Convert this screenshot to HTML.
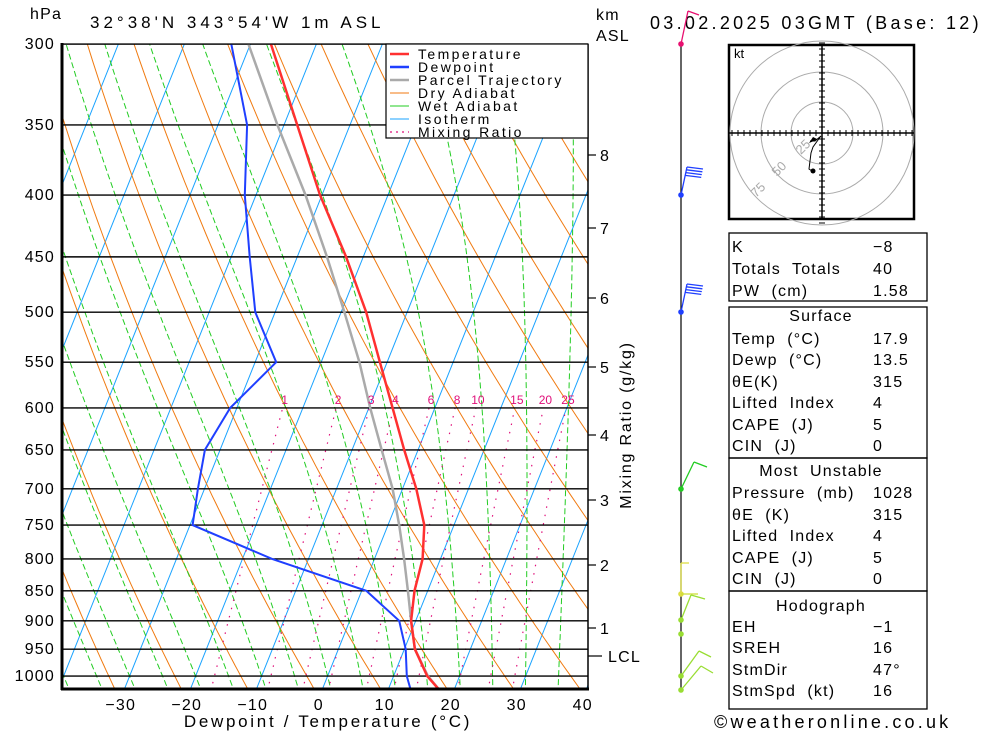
<!DOCTYPE html>
<html><head><meta charset="utf-8">
<style>
html,body{margin:0;padding:0;background:#fff;}
svg{display:block;font-family:"Liberation Sans",sans-serif;}
.t{font-size:16px;letter-spacing:1.2px;fill:#000;}
</style></head>
<body>
<svg id="c" width="1000" height="733" viewBox="0 0 1000 733" xmlns="http://www.w3.org/2000/svg">
<defs><clipPath id="pc"><rect x="62" y="44" width="526" height="646"/></clipPath></defs>
<g id="bg" clip-path="url(#pc)"></g>
<g id="prof" clip-path="url(#pc)"></g>
<g id="ax"></g>
<text x="30" y="19" class="t">hPa</text>
<text x="90" y="28" class="t" style="font-size:17px;letter-spacing:4px">32°38'N 343°54'W 1m ASL</text>
<text x="596" y="20" class="t">km</text>
<text x="596" y="41" class="t">ASL</text>
<text x="650" y="29" class="t" style="font-size:18px;letter-spacing:3.3px">03.02.2025 03GMT (Base: 12)</text>
<text x="328" y="727" text-anchor="middle" class="t" style="font-size:17px;letter-spacing:2.7px">Dewpoint / Temperature (°C)</text>
<text transform="translate(631,425) rotate(-90)" text-anchor="middle" class="t" style="letter-spacing:1.8px">Mixing Ratio (g/kg)</text>
<g>
<rect x="386" y="44" width="202" height="94" fill="#fff" stroke="#000" stroke-width="1.2"/>
<g id="leg" style="font-size:14px;letter-spacing:2.4px"></g>
</g>
<g id="wind"></g>
<g id="hodo"></g>
<g id="tbl"></g>
<text x="714" y="728" class="t" style="font-size:18px;letter-spacing:3.2px">©weatheronline.co.uk</text>
</svg>
<script>
// ---- data ----
const pressures = [1028,1000,950,900,850,800,750,700,650,600,550,500,450,400,350,300];
const temperature = [17.9,15.1,11.6,9.3,8.0,7.3,5.5,2.1,-2.1,-6.4,-11.1,-16.2,-22.6,-30.3,-38.0,-46.9];
const dewpointP = [1028,1000,950,900,850,800,750,700,650,600,550,500,450,400,350,300];
const dewpoint = [13.5,12.0,10.2,7.5,0.7,-15.5,-29.6,-31.0,-32.3,-31.0,-26.8,-33.0,-37.2,-41.7,-45.6,-52.9];
const parcel = [17.9,15.2,11.6,9.3,7.0,4.5,1.7,-1.5,-5.5,-9.8,-14.2,-19.5,-25.5,-32.5,-41.0,-50.3];
const isobars = [300,350,400,450,500,550,600,650,700,750,800,850,900,950,1000];
const tempTicks = [-30,-20,-10,0,10,20,30,40];
const mixRatios = [1,2,3,4,6,8,10,15,20,25];
const kmLabels = ["8","7","6","5","4","3","2","1"];

const NS="http://www.w3.org/2000/svg";
function yP(p){return 44+525*Math.log(p/300);}
function xT(t,p){return 322+6.6*t+0.4*(690-yP(p));}
function mk(tag,attrs,parent){const e=document.createElementNS(NS,tag);for(const k in attrs)e.setAttribute(k,attrs[k]);parent.appendChild(e);return e;}
const bg=document.getElementById('bg'),prof=document.getElementById('prof'),ax=document.getElementById('ax');
function poly(pts,style,parent){const e=mk('polyline',{points:pts.map(q=>q[0].toFixed(1)+','+q[1].toFixed(1)).join(' '),fill:'none'},parent);for(const k in style)e.setAttribute(k,style[k]);return e;}

for(let t=-110;t<=40;t+=10){
  const l=poly([[xT(t,1030),yP(1030)],[xT(t,290),yP(290)]],{stroke:'#1aa3ff','stroke-width':1},bg);
  
  
}
for(let th=220;th<=470;th+=10){
  const pts=[];for(let p=1030;p>=290;p-=10){const T=th*Math.pow(p/1000,0.286)-273.15;pts.push([xT(T,p),yP(p)]);}
  const l=poly(pts,{stroke:'#f07a10','stroke-width':1},bg);
  
  
}
function es(T){return 6.112*Math.exp(17.67*T/(T+243.5));}
function dTdp(T,p){const Tk=T+273.15,e=es(T),rs=0.622*e/(p-e),Lv=2.5e6,Rd=287,cp=1004;
  return (1/p)*(Rd*Tk+Lv*rs)/(cp+Lv*Lv*rs*0.622/(Rd*Tk*Tk));}
for(let tw=-45;tw<=45;tw+=5){
  let T=tw;const up=[];
  for(let p=1000;p>=290;p-=5){up.push([xT(T,p),yP(p)]);T-=dTdp(T,p)*5;}
  T=tw;const dn=[];for(let p=1000;p<=1035;p+=5){dn.unshift([xT(T,p),yP(p)]);T+=dTdp(T,p)*5;}
  const l=poly(dn.concat(up),{stroke:'#22cc22','stroke-width':1,'stroke-dasharray':'6,3'},bg);
  
  
}
function tw(w,p){const wk=w/1000,e=wk*p/(0.622+wk),a=Math.log(e/6.112);return 243.5*a/(17.67-a);}
mixRatios.forEach(w=>{
  const pts=[];for(let p=1030;p>=600;p-=10)pts.push([xT(tw(w,p),p),yP(p)]);
  const l=poly(pts,{stroke:'#e0107a','stroke-width':1.2,'stroke-dasharray':'1.5,7'},bg);
  
  
  const tx=mk('text',{x:xT(tw(w,600),600)+2,y:404,'text-anchor':'middle',fill:'#e0107a','font-size':'12'},ax);
  tx.textContent=w;
  
  
});
isobars.forEach(p=>{
  const l=mk('line',{x1:62,x2:588,y1:yP(p),y2:yP(p),stroke:'#000','stroke-width':1.4},bg);
  
  
  const t=mk('text',{x:55,y:yP(p)+5,'text-anchor':'end',class:'t','font-size':'15'},ax);
  t.textContent=p;
  
  
});
const par=poly(pressures.map((p,i)=>[xT(parcel[i],p),yP(p)]),{stroke:'#aaaaaa','stroke-width':2.5},prof);


const dw=poly(dewpointP.map((p,i)=>[xT(dewpoint[i],p),yP(p)]),{stroke:'#1f3fff','stroke-width':2},prof);


const tl=poly(pressures.map((p,i)=>[xT(temperature[i],p),yP(p)]),{stroke:'#ff3030','stroke-width':2.5},prof);



mk('line',{x1:62,y1:43,x2:62,y2:690,stroke:'#000','stroke-width':3},ax);
mk('line',{x1:61,y1:689,x2:589,y2:689,stroke:'#000','stroke-width':3},ax);
mk('line',{x1:62,y1:44,x2:588,y2:44,stroke:'#000','stroke-width':1.2},ax);
mk('line',{x1:588,y1:44,x2:588,y2:690,stroke:'#000','stroke-width':1.5},ax);
tempTicks.forEach(t=>{
  const tx=mk('text',{x:xT(t,1028)-3,y:710,'text-anchor':'middle',class:'t','font-size':'16'},ax);
  tx.textContent=(t<0?'\u2212'+(-t):t);
  
  
});
const kmY=[155,228,298,367,435,500,565,628];
kmLabels.forEach((k,i)=>{
  mk('line',{x1:588,x2:596,y1:kmY[i],y2:kmY[i],stroke:'#000','stroke-width':1.2},ax);
  const t=mk('text',{x:600,y:kmY[i]+6,class:'t','font-size':'16'},ax);t.textContent=k;
  
  
});
mk('line',{x1:588,x2:602,y1:656,y2:656,stroke:'#000','stroke-width':1.2},ax);
const lcl=mk('text',{x:608,y:662,class:'t','font-size':'16'},ax);lcl.textContent='LCL';



const leg=document.getElementById('leg');
[['Temperature','#ff3030',2.5,''],['Dewpoint','#1f3fff',2.5,''],['Parcel Trajectory','#aaaaaa',2.5,''],['Dry Adiabat','#f07a10',1,''],['Wet Adiabat','#22cc22',1,''],['Isotherm','#1aa3ff',1,''],['Mixing Ratio','#e0107a',1.2,'2,4']].forEach((r,i)=>{
  const y=54+i*13;
  const l=mk('line',{x1:390,x2:409,y1:y,y2:y,stroke:r[1],'stroke-width':r[2]},leg);
  if(r[3])l.setAttribute('stroke-dasharray',r[3]);
  const t=mk('text',{x:418,y:y+5,fill:'#000'},leg);t.textContent=r[0];
  
  
});

const wind=document.getElementById('wind');
mk('line',{x1:681,y1:44,x2:681,y2:690,stroke:'#000','stroke-width':1.2},wind);
function barb(y,col,dx,dy,flags){
  mk('line',{x1:681,y1:y,x2:681+dx,y2:y-dy,stroke:col,'stroke-width':1.3},wind);
  flags.forEach(f=>mk('line',{x1:681+dx*f[0],y1:y-dy*f[0],x2:681+dx*f[0]+f[1],y2:y-dy*f[0]+f[2],stroke:col,'stroke-width':1.3},wind));
  mk('circle',{cx:681,cy:y,r:2.8,fill:col},wind);
}
barb(44,'#e81070',7,33,[[1,11,4]]);
barb(195,'#1f3fff',6,28,[[1,16,2],[0.9,16,2],[0.8,16,2],[0.7,16,2]]);
barb(312,'#1f3fff',6,28,[[1,16,2],[0.9,16,2],[0.8,16,2],[0.7,16,2]]);
barb(489,'#22cc22',13,27,[[1,13,5],[0.85,0,0]]);
barb(594,'#dddd44',0,31,[[1,8,0],[0.5,0,0]]);
mk('line',{x1:681,y1:594,x2:698,y2:594,stroke:'#ccdd33','stroke-width':1.3},wind);
barb(620,'#99dd33',10,25,[[1,14,4]]);
barb(634,'#99dd33',0,0,[]);
barb(676,'#99dd33',18,25,[[1,12,6]]);
barb(690,'#99dd33',20,24,[[1,12,7]]);

const h=document.getElementById('hodo');const cx=822,cy=133;
mk('rect',{x:729,y:45,width:185,height:174,fill:'#fff',stroke:'#000','stroke-width':2.5},h);
[31,61,92].forEach(r=>mk('circle',{cx:cx,cy:cy,r:r,fill:'none',stroke:'#aaa','stroke-width':1},h));
mk('line',{x1:729,x2:914,y1:cy,y2:cy,stroke:'#000','stroke-width':1.5},h);
mk('line',{x1:cx,x2:cx,y1:45,y2:219,stroke:'#000','stroke-width':1.5},h);
for(let d=-90;d<=90;d+=6){if(d===0)continue;
  mk('line',{x1:cx+d,x2:cx+d,y1:cy-3,y2:cy+3,stroke:'#000','stroke-width':1},h);
  mk('line',{x1:cx-3,x2:cx+3,y1:cy+d,y2:cy+d,stroke:'#000','stroke-width':1},h);}
const kt=mk('text',{x:734,y:58,'font-size':'13',fill:'#000'},h);kt.textContent='kt';
[['25',801,155],['50',777,177],['75',756,198]].forEach(a=>{const t=mk('text',{x:a[1],y:a[2],'font-size':'13',fill:'#aaa',transform:'rotate(-45 '+a[1]+' '+a[2]+')'},h);t.textContent=a[0];});
mk('polyline',{points:'812,171 809,169 811,153 813,147 818,140 821,136 815,141 810,141',fill:'none',stroke:'#000','stroke-width':1},h);
mk('polygon',{points:'809,143 813,137 817,139 814,141',fill:'#000'},h);
mk('circle',{cx:813,cy:171,r:2.5,fill:'#000'},h);

const tb=document.getElementById('tbl');
[[729,233,198,68],[729,307,198,151],[729,458,198,133],[729,591,198,118]].forEach(b=>mk('rect',{x:b[0],y:b[1],width:b[2],height:b[3],fill:'none',stroke:'#000','stroke-width':1.3},tb));
const rows=[['K','\u22128',252],['Totals Totals','40',274],['PW (cm)','1.58',296],
['Temp (°C)','17.9',344],['Dewp (°C)','13.5',365],['θE(K)','315',387],['Lifted Index','4',408],['CAPE (J)','5',430],['CIN (J)','0',451],
['Pressure (mb)','1028',498],['θE (K)','315',520],['Lifted Index','4',541],['CAPE (J)','5',563],['CIN (J)','0',584],
['EH','\u22121',632],['SREH','16',653],['StmDir','47°',675],['StmSpd (kt)','16',696]];
rows.forEach(r=>{
  const a=mk('text',{x:732,y:r[2],class:'t','font-size':'16'},tb);a.textContent=r[0].replace(/ /g,'\u00a0 ');
  
  
  const b=mk('text',{x:873,y:r[2],class:'t','font-size':'16'},tb);b.textContent=r[1];
  
  
});
[['Surface',321],['Most Unstable',476],['Hodograph',611]].forEach(s=>{
  const t=mk('text',{x:821,y:s[1],'text-anchor':'middle',class:'t','font-size':'16'},tb);t.textContent=s[0].replace(/ /g,'\u00a0 ');
  
  
});
</script>
</body></html>
